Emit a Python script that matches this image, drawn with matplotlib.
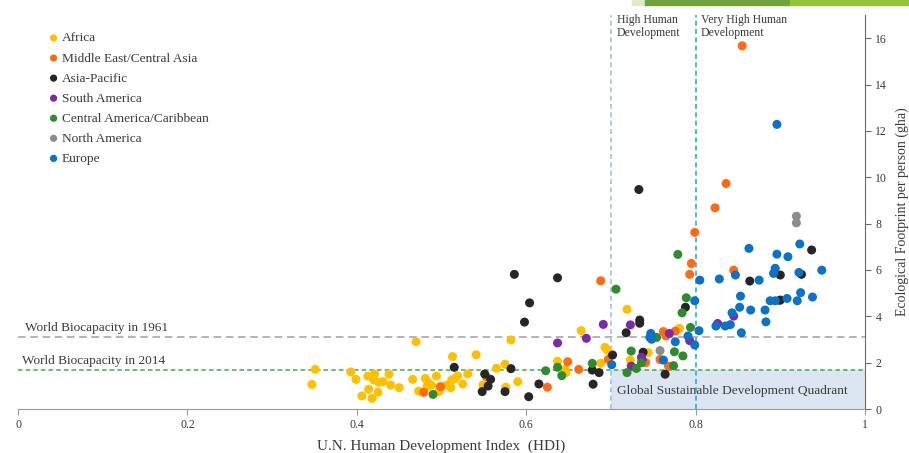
import numpy as np
import matplotlib
matplotlib.use('Agg')
import matplotlib.pyplot as plt
from matplotlib.patches import Rectangle

plt.rcParams['font.family'] = 'serif'
plt.rcParams['font.serif'] = ['Liberation Serif', 'DejaVu Serif']

# data: (HDI, ecological footprint gha)
africa_hdi = [0.347, 0.351, 0.393, 0.399, 0.406, 0.413, 0.414, 0.418, 0.420, 0.421,
              0.425, 0.426, 0.431, 0.438, 0.440, 0.450, 0.466, 0.470, 0.473, 0.481,
              0.484, 0.488, 0.483, 0.494, 0.497, 0.498, 0.506, 0.511, 0.512, 0.513,
              0.516, 0.519, 0.525, 0.531, 0.541, 0.549, 0.565, 0.575, 0.576, 0.582,
              0.590, 0.637, 0.646, 0.647, 0.665, 0.688, 0.693, 0.696, 0.719, 0.723,
              0.744, 0.781]
africa_gha = [1.06, 1.71, 1.60, 1.28, 0.56, 1.42, 0.85, 0.46, 1.25, 1.50,
              0.72, 1.15, 1.18, 1.50, 1.03, 0.92, 1.28, 2.90, 0.77, 1.32,
              1.13, 1.03, 0.96, 1.42, 0.75, 0.96, 1.03, 0.92, 1.25, 2.26,
              1.32, 1.42, 1.08, 1.51, 2.34, 1.03, 1.76, 1.93, 0.94, 2.98,
              1.18, 2.06, 1.71, 1.57, 3.38, 1.97, 2.66, 2.54, 4.30, 2.11,
              2.43, 3.48]

mideast_hdi = [0.479, 0.499, 0.553, 0.625, 0.649, 0.662, 0.688, 0.697, 0.741, 0.758,
               0.762, 0.765, 0.768, 0.776, 0.795, 0.793, 0.799, 0.823, 0.836, 0.845,
               0.855, 0.899]
mideast_gha = [0.72, 0.96, 1.39, 0.94, 2.04, 1.71, 5.53, 2.14, 2.00, 2.14,
               3.34, 3.15, 1.85, 3.36, 6.28, 5.81, 7.62, 8.68, 9.73, 5.99,
               15.67, 4.68]

asia_hdi = [0.515, 0.551, 0.558, 0.555, 0.548, 0.582, 0.575, 0.586, 0.637, 0.604,
            0.598, 0.615, 0.603, 0.678, 0.686, 0.679, 0.702, 0.734, 0.734, 0.718,
            0.738, 0.733, 0.764, 0.788, 0.864, 0.900, 0.925, 0.937, 0.900]
asia_gha = [1.80, 1.51, 1.28, 0.99, 0.75, 1.74, 0.75, 5.81, 5.66, 4.58,
            3.75, 1.08, 0.53, 1.68, 1.57, 1.07, 2.33, 3.84, 3.70, 3.29,
            2.45, 9.47, 1.50, 4.39, 5.52, 5.78, 5.81, 6.86, 4.70]

samerica_hdi = [0.637, 0.671, 0.691, 0.723, 0.724, 0.736, 0.737, 0.769, 0.793, 0.826,
                0.845]
samerica_gha = [2.85, 3.05, 3.65, 3.63, 1.85, 2.23, 2.12, 3.26, 2.95, 3.69,
                4.01]

camerica_hdi = [0.490, 0.623, 0.637, 0.642, 0.678, 0.706, 0.719, 0.724, 0.730, 0.736,
                0.754, 0.774, 0.775, 0.779, 0.785, 0.784, 0.789, 0.794]
camerica_gha = [0.63, 1.65, 1.80, 1.44, 1.97, 5.17, 1.57, 2.50, 1.75, 2.00,
                3.09, 1.87, 2.47, 6.67, 2.29, 4.15, 4.80, 3.52]

namerica_hdi = [0.758, 0.919, 0.919]
namerica_gha = [2.52, 8.32, 8.03]

europe_hdi = [0.701, 0.747, 0.748, 0.746, 0.762, 0.776, 0.791, 0.799, 0.799, 0.804,
              0.805, 0.824, 0.828, 0.835, 0.841, 0.843, 0.847, 0.852, 0.853, 0.854,
              0.863, 0.865, 0.875, 0.882, 0.883, 0.888, 0.892, 0.894, 0.894, 0.896,
              0.896, 0.908, 0.909, 0.920, 0.922, 0.923, 0.924, 0.938, 0.949]
europe_gha = [1.91, 3.26, 3.01, 3.09, 2.11, 2.90, 3.15, 2.76, 4.67, 3.38,
              5.56, 3.58, 5.61, 3.58, 3.64, 4.15, 5.78, 4.39, 4.87, 3.29,
              6.93, 4.27, 5.56, 4.27, 3.76, 4.67, 5.85, 6.07, 4.67, 6.68,
              12.28, 4.77, 6.57, 4.67, 5.89, 7.12, 5.02, 4.83, 5.99]

biocap_1961 = 3.1
biocap_2014 = 1.68
hdi_high = 0.7
hdi_very_high = 0.8

regions = [
    ('Africa', africa_hdi, africa_gha, '#ffc000'),
    ('Middle East/Central Asia', mideast_hdi, mideast_gha, '#ff6a13'),
    ('Asia-Pacific', asia_hdi, asia_gha, '#262626'),
    ('South America', samerica_hdi, samerica_gha, '#7b2aa8'),
    ('Central America/Caribbean', camerica_hdi, camerica_gha, '#2e8b2e'),
    ('North America', namerica_hdi, namerica_gha, '#8c8c8c'),
    ('Europe', europe_hdi, europe_gha, '#0a72c9'),
]

txt = '#3a3a3a'
fig = plt.figure(figsize=(9.09, 4.53), dpi=100)
ax = fig.add_axes([18 / 909, 44 / 453, 847 / 909, 394 / 453])

# slide decoration bar at the top
fig.patches.append(Rectangle((632 / 909, 448 / 453), 13 / 909, 5 / 453, transform=fig.transFigure,
                             color='#dfe9cc', zorder=0))
fig.patches.append(Rectangle((645 / 909, 448 / 453), 145 / 909, 5 / 453, transform=fig.transFigure,
                             color='#72a23c', zorder=0))
fig.patches.append(Rectangle((790 / 909, 448 / 453), 119 / 909, 5 / 453, transform=fig.transFigure,
                             color='#95c43a', zorder=0))

# sustainable quadrant
ax.add_patch(Rectangle((hdi_high, 0), 1 - hdi_high, biocap_2014, color='#dce6f2', zorder=0, lw=0))
ax.text(0.843, 0.78, 'Global Sustainable Development Quadrant', ha='center', va='center',
        fontsize=9.6, color=txt, zorder=1)

ax.axhline(biocap_1961, color='#a0a0a0', ls=(0, (5, 3)), lw=1.1, zorder=1)
ax.axhline(biocap_2014, color='#3cb04a', ls=(0, (3, 2)), lw=1.1, zorder=1)
ax.axvline(hdi_high, color='#9dc3e6', ls=(0, (3, 2)), lw=1.2, zorder=1)
ax.axvline(hdi_very_high, color='#22b0d4', ls=(0, (3, 2)), lw=1.2, zorder=1)

ax.text(0.008, biocap_1961 + 0.15, 'World Biocapacity in 1961', fontsize=9.5, color=txt, va='bottom')
ax.text(0.005, biocap_2014 + 0.15, 'World Biocapacity in 2014', fontsize=9.5, color=txt, va='bottom')
ax.text(hdi_high + 0.007, 17.05, 'High Human\nDevelopment', fontsize=8.5, color=txt, va='top',
        linespacing=1.15)
ax.text(hdi_very_high + 0.006, 17.05, 'Very High Human\nDevelopment', fontsize=8.5, color=txt, va='top',
        linespacing=1.15)

for name, xs, ys, col in regions:
    ax.scatter(xs, ys, s=42, color=col, edgecolors='none', label=name, zorder=3)

ax.set_xlim(0, 1)
ax.set_ylim(0, 17)
ax.set_xticks([0, 0.2, 0.4, 0.6, 0.8, 1])
ax.set_xticklabels(['0', '0.2', '0.4', '0.6', '0.8', '1'])
ax.set_yticks(range(0, 17, 2))
ax.yaxis.tick_right()
ax.yaxis.set_label_position('right')
for s in ['left', 'top']:
    ax.spines[s].set_visible(False)
ax.spines['bottom'].set_color('#9a9a9a')
ax.spines['right'].set_color('#6a6a6a')
ax.tick_params(axis='both', labelsize=8.5, colors=txt, length=4, width=0.8)
ax.tick_params(axis='x', color='#9a9a9a')
ax.tick_params(axis='y', color='#6a6a6a')
ax.set_xlabel('U.N. Human Development Index  (HDI)', fontsize=11, color=txt, labelpad=6)
ax.set_ylabel('Ecological Footprint per person (gha)', fontsize=10, color=txt, labelpad=6)

ax.legend(loc='upper left', bbox_to_anchor=(0.031, 0.97), frameon=False, fontsize=9.6,
          handlelength=0.6, handletextpad=0.3, labelspacing=0.58, markerscale=0.8,
          borderaxespad=0, labelcolor=txt)

fig.savefig('out.png', dpi=100)
